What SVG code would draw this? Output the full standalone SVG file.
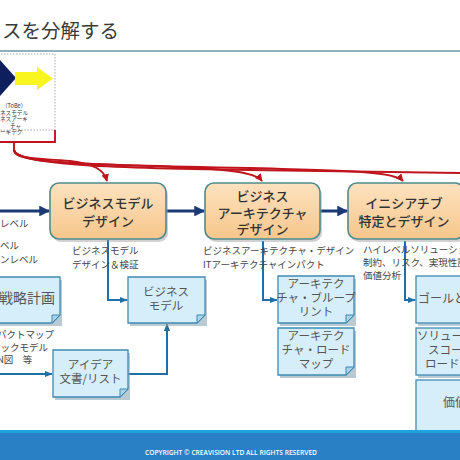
<svg xmlns="http://www.w3.org/2000/svg" width="460" height="460" viewBox="0 0 460 460">
<defs>
<linearGradient id="og" x1="0" y1="0" x2="0" y2="1">
<stop offset="0" stop-color="#fde2bf"/>
<stop offset="1" stop-color="#f6c68c"/>
</linearGradient>
<marker id="mr" viewBox="0 0 10 10" refX="9" refY="5" markerWidth="4" markerHeight="4" orient="auto"><path d="M0,0 L10,5 L0,10 z" fill="#c0141c"/></marker>
<marker id="mn" viewBox="0 0 10 10" refX="9" refY="5" markerWidth="3.6" markerHeight="3.6" orient="auto"><path d="M0,0 L10,5 L0,10 z" fill="#1b3a75"/></marker>
<marker id="mb" viewBox="0 0 10 10" refX="9" refY="5" markerWidth="4" markerHeight="4" orient="auto"><path d="M0,1 L10,5 L0,9 z" fill="#1f6fa8"/></marker>
</defs>
<style>
.t{font-family:"Noto Sans CJK JP","Noto Sans",sans-serif;fill:#444}
.bx{fill:url(#og);stroke:#4f8a8c;stroke-width:1.6}
.sh{fill:#9a9a9a;opacity:0.45}
.bt{font-family:"Noto Sans CJK JP","Noto Sans",sans-serif;font-size:13px;fill:#333;text-anchor:middle;font-weight:500}
.nt{fill:#d5eef9;stroke:#3f8ab3;stroke-width:1.3}
.ns{fill:#8aa7b5;opacity:0.6}
.fold{fill:#a9d3e8;stroke:#3f8ab3;stroke-width:1}
.ntx{font-family:"Noto Sans CJK JP","Noto Sans",sans-serif;font-size:11.5px;fill:#555;text-anchor:middle}
.sm{font-family:"Noto Sans CJK JP","Noto Sans",sans-serif;font-size:9.5px;fill:#444}
.red{fill:none;stroke:#c0141c;stroke-width:1.9}
.nav{fill:none;stroke:#1b3a75;stroke-width:3}
.blu{fill:none;stroke:#1f6fa8;stroke-width:2}
</style>
<rect width="460" height="460" fill="#fff"/>
<text x="2" y="38" class="t" style="font-size:19.5px;fill:#3a3a3a">スを分解する</text>
<rect x="0" y="50" width="460" height="2" fill="#8fb2c2"/>

<g id="tobe">
<rect x="-2" y="54" width="57" height="76" fill="#fff" stroke="#999" stroke-width="0.8" stroke-dasharray="1.5,1.5"/>
<path d="M0,60 L16,78 L0,96 z" fill="#0d1f5c"/>
<path d="M15,72 L37,72 L37,67 L53,78.5 L37,90 L37,85 L15,85 z" fill="#f8f520"/>
<g class="t" style="font-size:5.6px;fill:#333">
<text x="2" y="108">（ToBe）</text>
<text x="0" y="114.5">ネスモデル</text>
<text x="0" y="121">ネスアーキ</text>
<text x="10" y="127.5">チャ</text>
<text x="0" y="134">ーキテク</text>
</g>
</g>

<g id="connectors">
<path class="red" d="M55,130 V142 H0"/>
<path class="red" d="M14,142 V151"/>
<path class="red" d="M14,150 C14,160 40,158 70,161 C95,164 104,170 107,181" marker-end="url(#mr)"/>
<path class="red" d="M14,150 C16,162 60,163 150,166 C230,169 255,172 262,181" marker-end="url(#mr)"/>
<path class="red" d="M14,150 C16,163 80,165 250,168 C360,171 395,172 403,181" marker-end="url(#mr)"/>
<path class="red" d="M14,150 C16,164 100,168 250,170 C350,171 420,172 460,173"/>
<path class="nav" d="M0,211 H49" marker-end="url(#mn)"/>
<path class="nav" d="M166,211 H204" marker-end="url(#mn)"/>
<path class="nav" d="M320,211 H347" marker-end="url(#mn)"/>
<path class="blu" d="M108,240 V300 H127" marker-end="url(#mb)"/>
<path class="blu" d="M128,374 H167 V324" marker-end="url(#mb)"/>
<path class="blu" d="M0,374 H52" marker-end="url(#mb)"/>
<path class="blu" d="M263,241 V300 H277" marker-end="url(#mb)"/>
<path class="blu" d="M405,241 V300 H415" marker-end="url(#mb)"/>
</g>

<g id="box1">
<rect class="sh" x="52" y="186" width="116" height="56" rx="9"/>
<rect class="bx" x="50" y="183" width="116" height="56" rx="9"/>
<text class="bt" x="108" y="208">ビジネスモデル</text>
<text class="bt" x="108" y="226">デザイン</text>
</g>
<g id="box2">
<rect class="sh" x="207" y="186" width="115" height="56" rx="9"/>
<rect class="bx" x="205" y="183" width="115" height="56" rx="9"/>
<text class="bt" x="262.5" y="201">ビジネス</text>
<text class="bt" x="262.5" y="218">アーキテクチャ</text>
<text class="bt" x="262.5" y="234">デザイン</text>
</g>
<g id="box3">
<rect class="sh" x="350" y="186" width="116" height="56" rx="9"/>
<rect class="bx" x="348" y="183" width="116" height="56" rx="9"/>
<text class="bt" x="404" y="208">イニシアチブ</text>
<text class="bt" x="404" y="226">特定とデザイン</text>
</g>

<g id="labels">
<text class="sm" x="0" y="227">レベル</text>
<text class="sm" x="0" y="249">ベル</text>
<text class="sm" x="0" y="263">ンレベル</text>
<text class="sm" x="72" y="254">ビジネスモデル</text>
<text class="sm" x="72" y="268">デザイン＆検証</text>
<text class="sm" x="203" y="254">ビジネスアーキテクチャ・デザイン</text>
<text class="sm" x="203" y="268">ITアーキテクチャインパクト</text>
<text class="sm" x="363" y="253">ハイレベルソリューショ</text>
<text class="sm" x="363" y="266">制約、リスク、実現性評</text>
<text class="sm" x="363" y="279">価値分析</text>
<text class="sm" x="54" y="338" text-anchor="end">ンパクトマップ</text>
<text class="sm" x="48" y="351" text-anchor="end">ジックモデル</text>
<text class="sm" x="-3" y="363">N図　等</text>
</g>

<g id="note-senryaku">
<rect class="ns" x="-8" y="280" width="70" height="46"/>
<path class="nt" d="M-8,277 H60 V315 L52,323 H-8 z"/>
<path class="fold" d="M60,315 L52,315 L52,323 z"/>
<text x="55" y="303" text-anchor="end" class="t" style="font-size:14px;fill:#555">戦略計画</text>
</g>
<g id="note-bm">
<rect class="ns" x="130" y="280" width="77" height="46"/>
<path class="nt" d="M128,277 H205 V315 L197,323 H128 z"/>
<path class="fold" d="M205,315 L197,315 L197,323 z"/>
<text class="ntx" x="166" y="296">ビジネス</text>
<text class="ntx" x="166" y="310">モデル</text>
</g>
<g id="note-idea">
<rect class="ns" x="55" y="353" width="75" height="47"/>
<path class="nt" d="M53,350 H128 V389 L120,397 H53 z"/>
<path class="fold" d="M128,389 L120,389 L120,397 z"/>
<text class="ntx" x="90.5" y="369">アイデア</text>
<text class="ntx" x="90.5" y="383">文書/リスト</text>
</g>
<g id="note-bp">
<rect class="ns" x="280" y="279" width="76" height="47"/>
<path class="nt" d="M278,276 H354 V315 L346,323 H278 z"/>
<path class="fold" d="M354,315 L346,315 L346,323 z"/>
<text class="ntx" x="316" y="288">アーキテク</text>
<text class="ntx" x="316" y="302">チャ・ブループ</text>
<text class="ntx" x="316" y="316">リント</text>
</g>
<g id="note-rm">
<rect class="ns" x="280" y="331" width="76" height="47"/>
<path class="nt" d="M278,328 H354 V367 L346,375 H278 z"/>
<path class="fold" d="M354,367 L346,367 L346,375 z"/>
<text class="ntx" x="316" y="340">アーキテク</text>
<text class="ntx" x="316" y="354">チャ・ロード</text>
<text class="ntx" x="316" y="368">マップ</text>
</g>
<g id="note-goal">
<rect class="ns" x="418" y="279" width="50" height="47"/>
<rect class="nt" x="416" y="276" width="50" height="47"/>
<text x="418" y="303" class="t" style="font-size:12px;fill:#555">ゴールと</text>
</g>
<g id="note-sol">
<rect class="ns" x="418" y="331" width="50" height="47"/>
<rect class="nt" x="416" y="328" width="50" height="47"/>
<text x="417" y="340" class="t" style="font-size:11.5px;fill:#555">ソリューシ</text>
<text x="428" y="354" class="t" style="font-size:11.5px;fill:#555">スコープ</text>
<text x="425" y="368" class="t" style="font-size:11.5px;fill:#555">ロードマ</text>
</g>
<g id="note-val">
<rect class="ns" x="418" y="383" width="50" height="50"/>
<rect class="nt" x="416" y="380" width="50" height="52"/>
<text x="443" y="407" class="t" style="font-size:12px;fill:#555">価値</text>
</g>

<g id="footer">
<rect x="0" y="430" width="460" height="30" fill="#2980c4"/>
<rect x="0" y="430" width="460" height="3" fill="#1fa3dc"/>
<text x="231" y="455" text-anchor="middle" style="font-family:'Open Sans','Liberation Sans',sans-serif;font-size:6.6px;font-weight:600;fill:#fff" textLength="172" lengthAdjust="spacingAndGlyphs">COPYRIGHT © CREAVISION LTD ALL RIGHTS RESERVED</text>
</g>
</svg>
